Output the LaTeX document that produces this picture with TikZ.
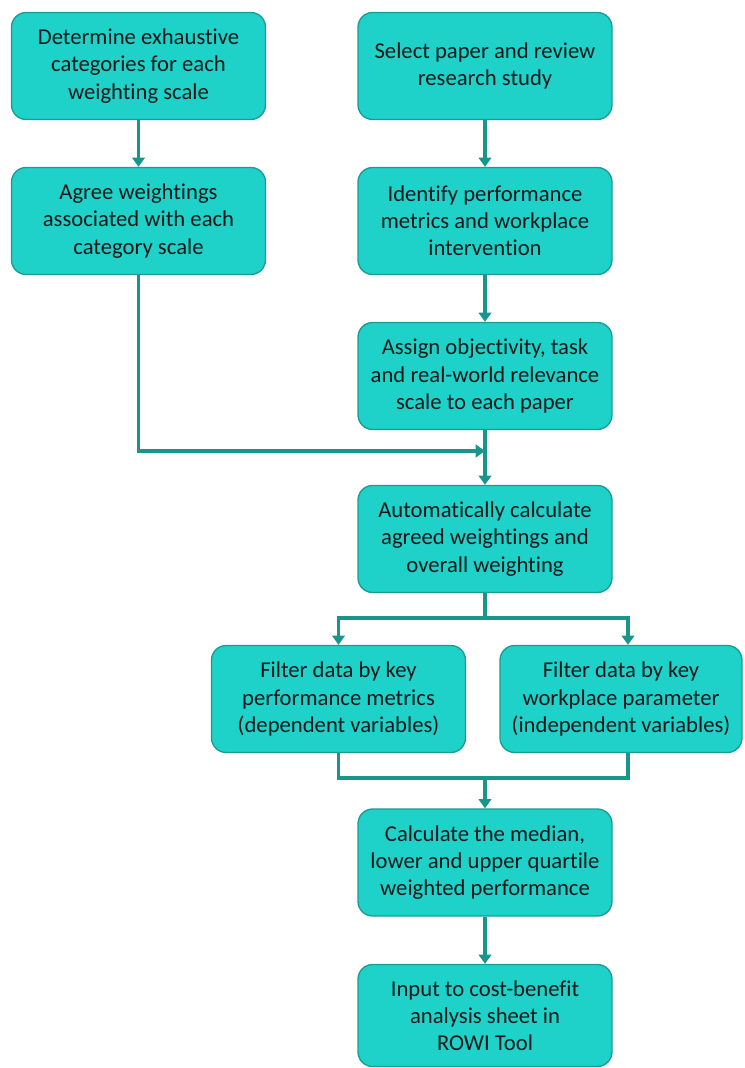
\documentclass[tikz,border=0pt]{standalone}
\usepackage{fontspec}
\setmainfont{Carlito}[Ligatures=NoCommon]
\usetikzlibrary{arrows.meta}
\definecolor{boxfill}{RGB}{30,209,201}
\definecolor{boxline}{RGB}{26,156,148}
\definecolor{flow}{RGB}{24,150,140}
\tikzset{
  stepbox/.style={draw=boxline, line width=1pt, fill=boxfill, rounded corners=11pt,
    minimum width=190.5pt, minimum height=80.25pt, align=center, inner sep=2pt,
    font=\fontsize{17}{20.4}\selectfont, text=black!90},
  link/.style={draw=flow, line width=2.3pt},
  arr/.style={link, -{Triangle[width=9.5pt,length=7pt]}}
}
\begin{document}
\begin{tikzpicture}[x=0.75pt, y=-0.75pt]
\useasboundingbox (0,0) rectangle (744,1068);

% left column
\node[stepbox] (d1) at (138.5,66) {Determine exhaustive\\categories for each\\weighting scale};
\node[stepbox] (d2) at (138.5,221) {Agree weightings\\associated with each\\category scale};

% main column
\node[stepbox] (s1) at (485,66) {Select paper and review\\research study};
\node[stepbox] (s2) at (485,221) {Identify performance\\metrics and workplace\\intervention};
\node[stepbox] (s3) at (485,376) {Assign objectivity, task\\and real-world relevance\\scale to each paper};
\node[stepbox] (s4) at (485,539) {Automatically calculate\\agreed weightings and\\overall weighting};

% filter boxes
\node[stepbox] (f1) at (338.5,699) {Filter data by key\\performance metrics\\(dependent variables)};
\node[stepbox, minimum width=181.5pt] (f2) at (621,699) {Filter data by key\\workplace parameter\\(independent variables)};

% final steps
\node[stepbox] (c1) at (485,862.5) {Calculate the median,\\lower and upper quartile\\weighted performance};
\node[stepbox, minimum height=76.5pt] (c2) at (485,1015.5) {Input to cost-benefit\\analysis sheet in\\ROWI Tool};

% junction points
\coordinate (join) at (485,451);
\coordinate (split) at (485,618);
\coordinate (merge) at (485,778);

% connectors
\draw[arr] (d1.south) -- (d2.north);
\draw[arr] (d2.south) |- (join);
\draw[arr] (s1.south) -- (s2.north);
\draw[arr] (s2.south) -- (s3.north);
\draw[arr] (s3.south) -- (s4.north);
\draw[link] (s4.south) -- (split);
\draw[arr] (split) -| (f1.north);
\draw[arr] (split) -| ([xshift=5.25pt]f2.north);
\draw[link] (f1.south) |- (merge) -| ([xshift=5.25pt]f2.south);
\draw[arr] (merge) -- (c1.north);
\draw[arr] (c1.south) -- (c2.north);
\end{tikzpicture}
\end{document}
